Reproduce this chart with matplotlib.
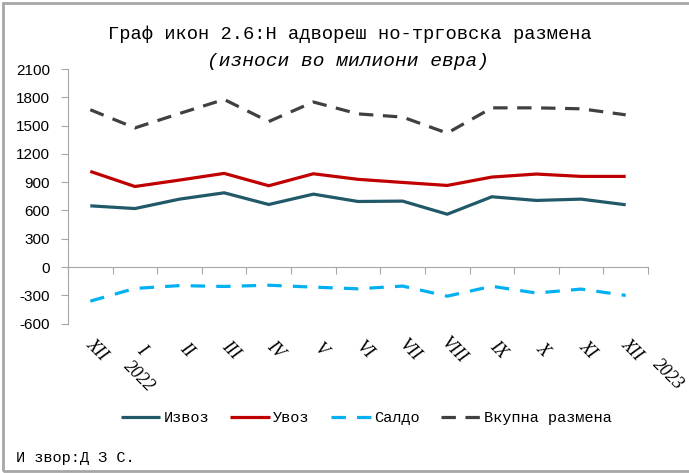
import matplotlib

matplotlib.use('Agg')
import matplotlib.pyplot as plt
import matplotlib.transforms as mtransforms
from matplotlib.patches import Rectangle
import numpy as np

months = ['XII', 'I', 'II', 'III', 'IV', 'V', 'VI', 'VII', 'VIII', 'IX', 'X', 'XI', 'XII']
export = [649, 620, 720, 787, 663, 773, 695, 699, 560, 745, 706, 720, 660]
imports = [1014, 854, 922, 993, 862, 989, 930, 897, 865, 954, 986, 961, 961]
balance = [-362, -227, -197, -206, -193, -213, -231, -202, -309, -204, -276, -234, -301]
total = [1668, 1475, 1628, 1777, 1543, 1750, 1624, 1590, 1420, 1688, 1688, 1678, 1614]
yticks = [-600, -300, 0, 300, 600, 900, 1200, 1500, 1800, 2100]

title = 'Граф икон 2.6:Н адвореш но-трговска размена'
subtitle = '(износи во милиони евра)'
source = 'И звор:Д З С.'

mono = ['Liberation Mono', 'DejaVu Sans Mono']
serif = ['Liberation Serif', 'DejaVu Serif']
sans = ['Liberation Sans', 'DejaVu Sans']

fig = plt.figure(figsize=(6.89, 4.73), dpi=100)
ax = fig.add_axes([68 / 689, 1 - 323.6 / 473, (648 - 68) / 689, (323.6 - 69) / 473])

x = np.arange(len(months))
ax.plot(x, export, color='#215968', lw=2.3, label='Извоз', solid_capstyle='butt')
ax.plot(x, imports, color='#C00000', lw=2.3, label='Увоз', solid_capstyle='butt')
ax.plot(x, balance, color='#00B0F0', lw=2.3, dashes=(4.5, 3.5), label='Салдо')
ax.plot(x, total, color='#404040', lw=2.3, dashes=(4.5, 3.0), label='Вкупна размена')

ax.set_xlim(-0.5, len(months) - 0.5)
ax.set_ylim(-600, 2100)
ax.set_yticks(yticks)
ax.set_yticklabels([str(v) for v in yticks], family=sans, fontsize=11)

for side in ['top', 'right']:
    ax.spines[side].set_visible(False)
ax.spines['left'].set_color('#A6A6A6')
ax.spines['bottom'].set_color('#A6A6A6')
ax.spines['bottom'].set_position(('data', 0))
ax.tick_params(axis='y', direction='out', length=5, color='#A6A6A6', pad=8)
ax.set_xticks(np.arange(len(months) + 1) - 0.5)
ax.set_xticklabels([])
ax.tick_params(axis='x', direction='out', length=5, color='#A6A6A6')

# month labels under the plot
trans = mtransforms.blended_transform_factory(ax.transData, fig.transFigure)
for i, m in enumerate(months):
    ax.text(i + 0.15, 1 - 350 / 473, m, transform=trans, family=serif, style='italic',
            fontsize=13, rotation=-45, ha='center', va='center', rotation_mode='anchor')
ax.text(1.1, 1 - 377 / 473, '2022', transform=trans, family=serif, style='italic',
        fontsize=13, rotation=-45, ha='center', va='center', rotation_mode='anchor')
ax.text(12.95, 1 - 375 / 473, '2023', transform=trans, family=serif, style='italic',
        fontsize=13, rotation=-45, ha='center', va='center', rotation_mode='anchor')

fig.text(350 / 689, 1 - 34 / 473, title, family=mono, fontsize=13.5, ha='center', va='center')
fig.text(348 / 689, 1 - 62 / 473, subtitle, family=mono, style='italic', fontsize=14,
         ha='center', va='center')
fig.text(16 / 689, 1 - 458 / 473, source, family=mono, fontsize=11, ha='left', va='center')

fig.legend(loc='center', bbox_to_anchor=(366 / 689, 1 - 418 / 473), ncol=4, frameon=False,
           prop={'family': mono, 'size': 11}, handlelength=2.6, handletextpad=0.2,
           columnspacing=1.4)

fig.patches.append(Rectangle((3 / 689, 2 / 473), 1.2, 1 - 5 / 473, transform=fig.transFigure,
                             fill=False, edgecolor='#A6A6A6', lw=2))

fig.savefig('out.png', dpi=100)
plt.close()
